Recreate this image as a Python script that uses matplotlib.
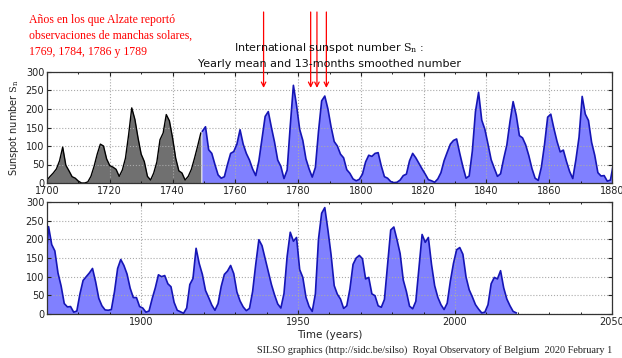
import matplotlib
matplotlib.use("Agg")
import matplotlib.pyplot as plt
import numpy as np
from matplotlib.ticker import MultipleLocator

plt.rcParams['mathtext.fontset'] = 'dejavuserif'

# Yearly mean (grey), 1700-1749
gray_years = list(range(1700, 1750))
gray_vals = [8, 18, 27, 38, 60, 97, 48, 33, 17, 13,
             5, 0, 0, 3, 18, 45, 78, 105, 100, 65,
             47, 43, 37, 18, 35, 67, 130, 203, 172, 122,
             78, 58, 18, 8, 27, 57, 117, 135, 185, 168,
             122, 67, 33, 27, 8, 18, 37, 67, 100, 135]

# 13-month smoothed number (blue), 1749-2019
blue_years = [y + 0.5 for y in range(1749, 2020)]
blue_vals = [
    140, 152, 90, 80, 50, 22, 13, 17, 50, 80,          # 1749-1758
    85, 105, 144, 105, 80, 62, 38, 20, 60, 120,        # 1759-1768
    180, 193, 150, 110, 62, 45, 12, 35, 155, 264,      # 1769-1778
    210, 145, 115, 65, 38, 16, 42, 140, 222, 235,      # 1779-1788
    200, 152, 112, 100, 78, 68, 36, 26, 11, 6,         # 1789-1798
    10, 24, 57, 75, 72, 80, 82, 46, 17, 13,            # 1799-1808
    4, 1, 2, 8, 20, 24, 60, 80, 68, 53,                # 1809-1818
    38, 24, 9, 6, 2, 11, 28, 60, 83, 105,              # 1819-1828
    115, 119, 80, 44, 13, 19, 86, 193, 245, 170,       # 1829-1838
    145, 105, 63, 40, 18, 25, 66, 103, 166, 220,       # 1839-1848
    183, 128, 122, 103, 74, 39, 13, 7, 43, 104,        # 1849-1858
    178, 186, 147, 112, 84, 89, 58, 31, 12, 63,        # 1859-1868
    124, 234, 186, 169, 110, 75, 28, 19, 20, 5,        # 1869-1878
    8, 54, 90, 100, 110, 122, 86, 42, 22, 11,          # 1879-1888
    10, 12, 60, 122, 146, 130, 107, 69, 44, 44,        # 1889-1898
    20, 16, 5, 8, 41, 70, 105, 100, 103, 81,           # 1899-1908
    73, 31, 10, 6, 2, 16, 79, 95, 176, 135,            # 1909-1918
    106, 63, 44, 24, 10, 28, 74, 106, 115, 130,        # 1919-1928
    108, 59, 35, 19, 9, 15, 60, 133, 199, 183,         # 1929-1938
    148, 113, 79, 51, 27, 16, 55, 154, 219, 195,       # 1939-1948
    205, 119, 98, 45, 20, 7, 54, 201, 270, 285,        # 1949-1958
    225, 159, 76, 53, 40, 15, 22, 67, 133, 150,        # 1959-1968
    157, 148, 94, 98, 54, 49, 22, 18, 39, 131,         # 1969-1978
    225, 233, 199, 162, 91, 60, 21, 14, 34, 123,       # 1979-1988
    213, 192, 205, 133, 76, 45, 25, 12, 29, 88,        # 1989-1998
    136, 172, 178, 160, 99, 65, 46, 25, 13, 3,         # 1999-2008
    5, 25, 81, 98, 94, 116, 70, 40, 22, 7,             # 2009-2018
    3,                                                 # 2019
]

alzate_years = [1769, 1784, 1786, 1789]

yticks = [0, 50, 100, 150, 200, 250, 300]
top_xticks = list(range(1700, 1881, 20))
bot_xticks = [1900, 1950, 2000, 2050]

gray_fill = '#707070'
blue_fill = '#8080ff'
blue_line = '#1515b5'

fig = plt.figure(figsize=(6.22, 3.58), dpi=100)
W, H = 622, 358

def frac(x0, y0, x1, y1):
    return [x0 / W, 1 - y1 / H, (x1 - x0) / W, (y1 - y0) / H]

ax1 = fig.add_axes(frac(47, 72, 612, 183))
ax2 = fig.add_axes(frac(47, 202, 612, 314))

gy = np.array(gray_years, dtype=float)
gv = np.array(gray_vals, dtype=float)
by = np.array(blue_years, dtype=float)
bv = np.array(blue_vals, dtype=float)

ax1.fill_between(gy, 0, gv, color=gray_fill, lw=0)
ax1.plot(gy, gv, color='black', lw=1.0)
for ax in (ax1, ax2):
    ax.fill_between(by, 0, bv, color=blue_fill, lw=0)
    ax.plot(by, bv, color=blue_line, lw=1.2)
    ax.set_ylim(0, 300)
    ax.set_yticks(yticks)
    ax.grid(True, which='major', linestyle=':', color='#aaaaaa', lw=0.8)
    ax.tick_params(direction='in', top=True, right=True, labelsize=7, length=3,
                   colors='#222222', pad=2)
    ax.tick_params(axis='x', pad=2.5)
    ax.tick_params(which='minor', direction='in', top=True, right=True, length=1.5)
    for s in ax.spines.values():
        s.set_color('#333333')
        s.set_linewidth(0.9)

ax1.set_xlim(1700, 1880)
ax1.set_xticks(top_xticks)
ax1.xaxis.set_minor_locator(MultipleLocator(10))
ax2.set_xlim(1870, 2050)
ax2.set_xticks(bot_xticks)
ax2.xaxis.set_minor_locator(MultipleLocator(10))

ax1.set_ylabel(r'Sunspot number $\mathrm{S_n}$', fontsize=7, color='#222222', labelpad=3)
ax2.set_xlabel('Time (years)', fontsize=7.5, color='#222222', labelpad=1.5)

fig.text(329.5 / W, 1 - 48 / H, r'International sunspot number $\mathrm{S_n}$ :',
         ha='center', va='center', fontsize=8, color='#111111')
fig.text(329.5 / W, 1 - 64 / H, 'Yearly mean and 13-months smoothed number',
         ha='center', va='center', fontsize=8, color='#111111')

fig.text(29 / W, 1 - 14 / H,
         'Años en los que Alzate reportó\nobservaciones de manchas solares,\n1769, 1784, 1786 y 1789',
         ha='left', va='top', fontsize=8.5, color='red', family='Liberation Serif',
         linespacing=1.45)

for yr in alzate_years:
    ax1.annotate('', xy=(yr, 257), xycoords='data',
                 xytext=(yr, 300 + (72 - 12) / 111 * 300), textcoords='data',
                 annotation_clip=False,
                 arrowprops=dict(arrowstyle='->', color='red', lw=0.9,
                                 shrinkA=0, shrinkB=0, mutation_scale=8))

fig.text(612 / W, 1 - 350 / H,
         'SILSO graphics (http://sidc.be/silso)  Royal Observatory of Belgium  2020 February 1',
         ha='right', va='center', fontsize=7.4, family='Liberation Serif', color='#222222')

fig.savefig('out.png', dpi=100)
